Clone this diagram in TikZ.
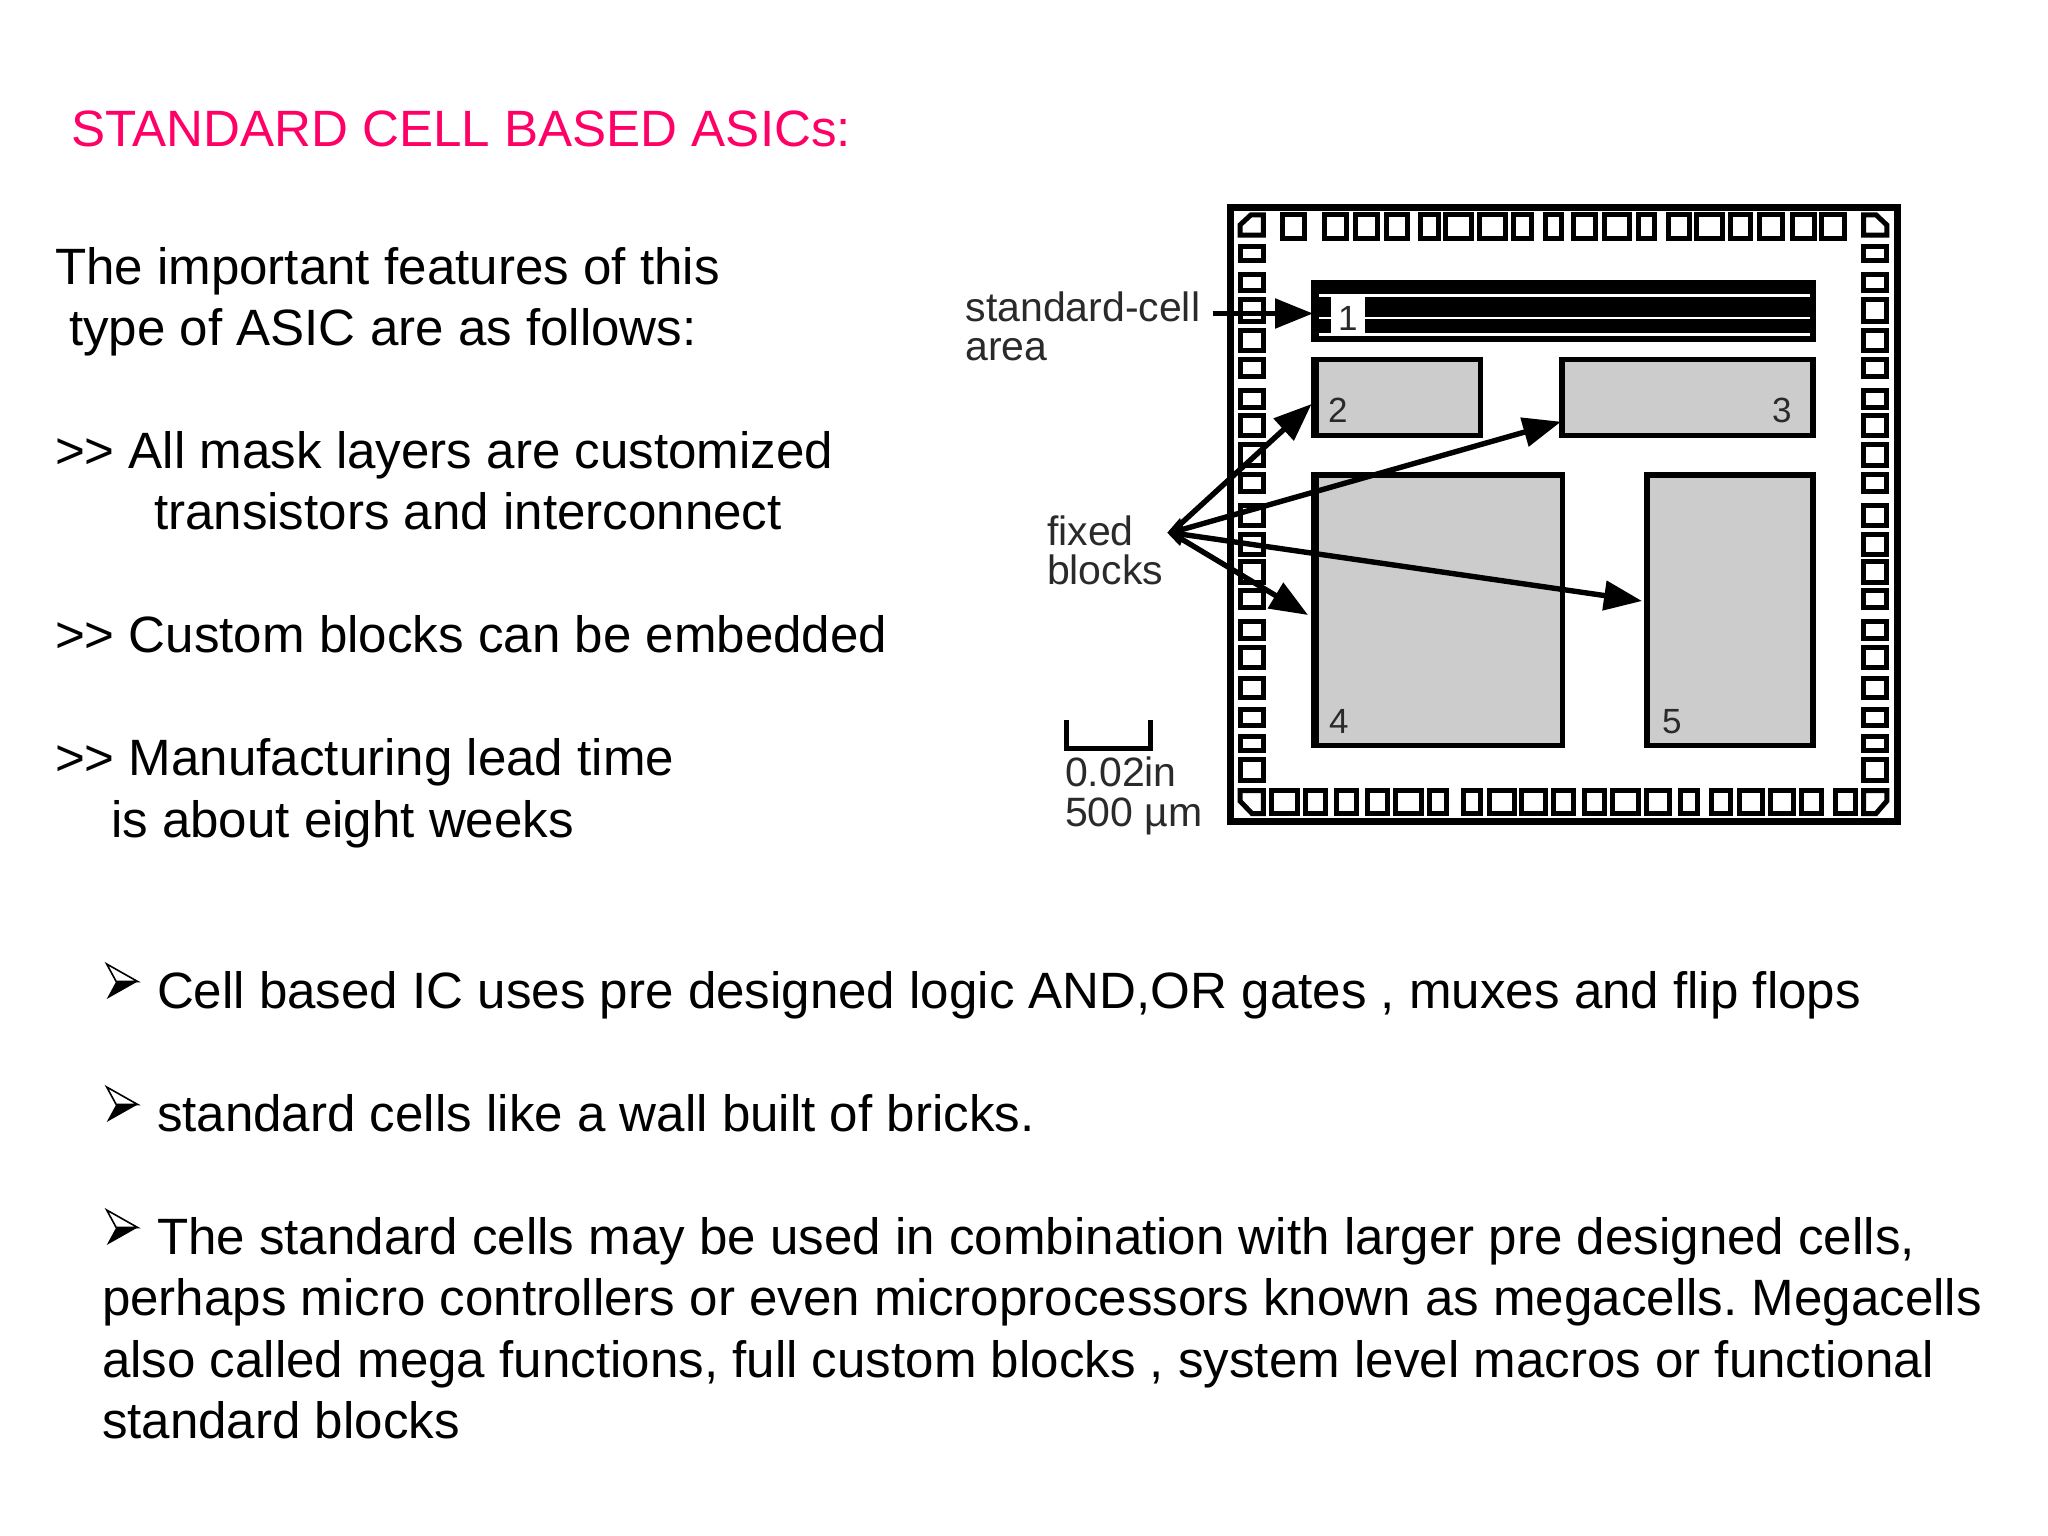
\documentclass[tikz,border=0pt]{standalone}
\usepackage{fontspec}
\setmainfont{Liberation Sans}
\usetikzlibrary{arrows.meta}
\definecolor{titlepink}{HTML}{FF0066}
\definecolor{blockgray}{HTML}{CCCCCC}
\definecolor{labelgray}{HTML}{2A2A2A}
\tikzset{
  x=1pt,y=-1pt,
  bodytext/.style={anchor=base west,inner sep=0pt,outer sep=0pt,font=\fontsize{51.1}{60}\selectfont\frenchspacing,text=black},
  titletext/.style={bodytext,text=titlepink},
  figtext/.style={anchor=base west,inner sep=0pt,outer sep=0pt,font=\fontsize{41}{48}\selectfont,text=labelgray},
  digit/.style={anchor=base west,inner sep=0pt,outer sep=0pt,font=\fontsize{35}{40}\selectfont,text=labelgray},
  padbox/.style={draw=black,line width=5pt,fill=white,miter limit=10},
  blockbox/.style={draw=black,line width=5.5pt,fill=blockgray,inner sep=0pt,outer sep=0pt},
  pointer/.style={draw=black,line width=5.4pt,-{Triangle[length=38pt,width=29pt]},shorten >=0pt},
  bulletarrow/.pic={
    \draw[black,line width=1.6pt,line join=miter,fill=white] (0,-44) -- (31,-26.5) -- (9.5,-26.5) -- cycle;
    \fill[black] (0,-9) -- (31,-26.5) -- (9.5,-26.5) -- cycle;
  }
}
\begin{document}
\begin{tikzpicture}
\useasboundingbox[fill=white] (0,0) rectangle (2048,1536);

% text
\node[titletext] (title) at (71,146.7) {STANDARD CELL BASED ASICs:};
\node[bodytext] (t1) at (55,284) {The important features of this};
\node[bodytext] (t2) at (69,345.5) {type of ASIC are as follows:};
\node[bodytext] (t3) at (55,468) {>{}> All mask layers are customized};
\node[bodytext] (t4) at (154,529.5) {transistors and interconnect};
\node[bodytext] (t5) at (55,652.5) {>{}> Custom blocks can be embedded};
\node[bodytext] (t6) at (55,775.5) {>{}> Manufacturing lead time};
\node[bodytext] (t7) at (111,837) {is about eight weeks};
\node[bodytext] (b1) at (157,1008.3) {Cell based IC uses pre designed logic AND,OR gates , muxes and flip flops};
\node[bodytext] (b2) at (157,1131) {standard cells like a wall built of bricks.};
\node[bodytext] (b3) at (157,1254) {The standard cells may be used in combination with larger pre designed cells,};
\node[bodytext] (b4) at (102,1315.5) {perhaps micro controllers or even microprocessors known as megacells. Megacells};
\node[bodytext] (b5) at (102,1377) {also called mega functions, full custom blocks , system level macros or functional};
\node[bodytext] (b6) at (102,1438.5) {standard blocks};
\pic at (106.7,1008) {bulletarrow};
\pic at (106.7,1131) {bulletarrow};
\pic at (106.7,1254) {bulletarrow};

% chip outline
\draw[black,line width=7pt] (1230,207.5) rectangle (1897,821);

% pads: top row
\foreach \a/\b in {1279.5/1307,1322/1349,1353/1380,1384/1410,1418/1441,1443/1474,1477/1508,1511/1534,1543/1564,1571/1598,1602/1632,1636/1657,1666/1692,1694/1725,1728/1753,1757/1785,1790/1817,1819/1847}
  \draw[padbox] (\a+2.5,214.8) rectangle (\b-2.5,238.2);
% pads: bottom row
\foreach \a/\b in {1268.5/1299.5,1303/1328,1334/1359,1365/1390,1393/1424,1427/1449,1461/1483,1487/1517,1519/1548,1551/1576,1582/1607,1610/1641,1644/1672,1678/1700,1709/1733,1737/1765,1768/1796,1799/1824,1833/1858}
  \draw[padbox] (\a+2.5,790.5) rectangle (\b-2.5,813.5);
% pads: left and right columns
\foreach \a/\b in {244.3/262.7,272/293.3,297.3/324.3,328.3/352.7,356.7/379.3,387.7/410,412.7/437.7,441.7/468.3,471.7/494,503.3/527.5,532/556.7,559.3/585,587.7/610,619/640.7,645/670,675.7/700,706.7/728.3,734.3/753.3,757.3/783.3}{
  \draw[padbox] (1240,\a+2.5) rectangle (1263.3,\b-2.5);
  \draw[padbox] (1863.5,\a+2.5) rectangle (1886.8,\b-2.5);
}
% corner pads
\draw[padbox] (1240,225) -- (1251,214.8) -- (1263.3,214.8) -- (1263.3,235.2) -- (1240,235.2) -- cycle;
\draw[padbox] (1863.5,214.8) -- (1876,214.8) -- (1886.8,225) -- (1886.8,235.2) -- (1863.5,235.2) -- cycle;
\draw[padbox] (1240,790.5) -- (1263.3,790.5) -- (1263.3,813.5) -- (1252,813.5) -- (1240,801) -- cycle;
\draw[padbox] (1863.5,790.5) -- (1886.8,790.5) -- (1886.8,801) -- (1876,813.5) -- (1863.5,813.5) -- cycle;

% block 1: standard-cell area
\fill[black] (1310.5,280) rectangle (1815.7,342);
\fill[white] (1319,294.3) rectangle (1810,297);
\fill[white] (1319,316.7) rectangle (1810,319.3);
\fill[white] (1319,333.3) rectangle (1810,336);
\fill[white] (1330.5,297) rectangle (1365,333.3);
\coordinate (area1) at (1313,313.5);
\node[digit] (n1) at (1338,330) {1};

% fixed blocks
\node[blockbox,minimum width=167pt,minimum height=75.8pt] (block2) at (1396.75,397.35) {};
\node[blockbox,minimum width=251.2pt,minimum height=75.8pt] (block3) at (1687.35,397.35) {};
\node[blockbox,minimum width=249pt,minimum height=270.5pt] (block4) at (1437.75,610.3) {};
\node[blockbox,minimum width=166.2pt,minimum height=270.5pt] (block5) at (1729.85,610.3) {};
\fill[black] (block2.north west) ++(-2.75,-2.75) rectangle ++(8.6,81.3);
\fill[black] (block4.north west) ++(-2.75,-2.75) rectangle ++(8.6,276);
\node[digit] (n2) at (1328,422) {2};
\node[digit] (n3) at (1772,422.5) {3};
\node[digit] (n4) at (1329,733) {4};
\node[digit] (n5) at (1662,733) {5};

% labels
\node[figtext] (l1) at (965.5,321.7) {standard-cell};
\node[figtext] (l2) at (965.5,360) {area};
\node[figtext] (l3) at (1047,545) {fixed};
\node[figtext] (l4) at (1047,584) {blocks};
\node[figtext] (l5) at (1065,786.7) {0.02in};
\node[figtext] (l6) at (1065,826) {500 µm};

% scale bar
\draw[black,line width=5pt] (1066,720) -- (1066,748.2) -- (1150,748.2) -- (1150,720);

% arrows
\coordinate (origin) at (1171,532.7);
\coordinate (stdstart) at (1212.7,313.5);
\coordinate (tip2) at (1311.6,404);
\coordinate (tip3) at (1561,421.7);
\coordinate (tip4) at (1308,615);
\coordinate (tip5) at (1642,601);
\fill[black] (1167.3,532.7) -- (1180,518) -- (1184,530) -- (1184,536) -- (1180,546) -- cycle;
\draw[pointer] (stdstart) -- (area1);
\draw[pointer] (origin) -- (tip2);
\draw[pointer] (origin) -- (tip3);
\draw[pointer] (origin) -- (tip4);
\draw[pointer] (origin) -- (tip5);
\end{tikzpicture}
\end{document}
